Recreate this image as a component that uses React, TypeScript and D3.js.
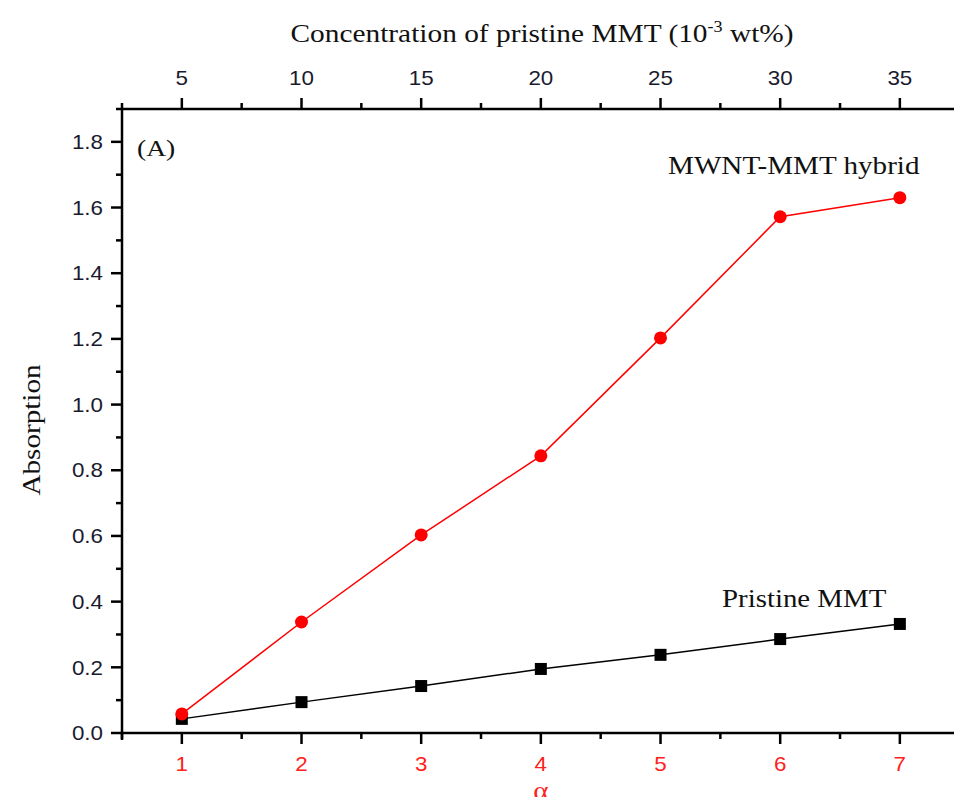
import React, { useEffect, useRef } from "react";
import * as d3 from "d3";

// alpha values (bottom axis)
const alphaValues = [1, 2, 3, 4, 5, 6, 7];
// absorption readings
const hybridValues = [0.058, 0.338, 0.603, 0.844, 1.203, 1.572, 1.63];
const pristineValues = [0.043, 0.094, 0.143, 0.195, 0.238, 0.286, 0.332];
const yTicks = [0, 0.2, 0.4, 0.6, 0.8, 1.0, 1.2, 1.4, 1.6, 1.8];
const topTicks = [5, 10, 15, 20, 25, 30, 35];

const App = () => {
  const svgRef = useRef<SVGSVGElement>(null);

  useEffect(() => {
    const width = 954;
    const height = 797;
    const margin = { top: 109, left: 122, bottom: 733 };

    const svg = d3.select(svgRef.current);
    svg.selectAll("*").remove();
    svg.attr("width", width).attr("height", height);

    const x = d3.scaleLinear().domain([0.5, 7.5]).range([margin.left, margin.left + 7 * 119.67]);
    const xTop = d3.scaleLinear().domain([2.5, 37.5]).range(x.range());
    const y = d3.scaleLinear().domain([0, 1.9]).range([margin.bottom, margin.top]);

    const sans = "'Liberation Sans', Arial, sans-serif";
    const serif = "'Liberation Serif', 'Times New Roman', serif";

    // the original's fonts are drawn a bit wider than normal, so stretch them horizontally
    const label = (parent: any, px: number, py: number, opts: any) => {
      const g = parent
        .append("g")
        .attr("transform", `translate(${px},${py}) scale(${opts.sx || 1.12},1)${opts.rotate ? "" : ""}`);
      return g
        .append("text")
        .attr("text-anchor", opts.anchor || "middle")
        .attr("dy", opts.dy || null)
        .style("font-family", opts.family)
        .style("font-size", `${opts.size}px`)
        .style("fill", opts.fill || "#111");
    };

    // bottom axis
    const bottom = svg.append("g").attr("transform", `translate(0,${margin.bottom})`);
    bottom
      .append("line")
      .attr("x1", x(0.5))
      .attr("x2", width + 20)
      .attr("stroke", "#000")
      .attr("stroke-width", 2.5);
    d3.range(0.5, 7.6, 0.5).forEach((v) => {
      const major = Number.isInteger(v);
      bottom
        .append("line")
        .attr("x1", x(v))
        .attr("x2", x(v))
        .attr("y1", 0)
        .attr("y2", major ? 11 : 6)
        .attr("stroke", "#000")
        .attr("stroke-width", 2.5);
    });
    alphaValues.forEach((d) => {
      label(bottom, x(d), 38, { family: sans, size: 20, fill: "#ff2020" }).text(d);
    });
    label(bottom, x(4), 66, { family: serif, size: 26, fill: "#ff2020" }).text("α");

    // top axis
    const top = svg.append("g").attr("transform", `translate(0,${margin.top})`);
    top
      .append("line")
      .attr("x1", x(0.5))
      .attr("x2", width + 20)
      .attr("stroke", "#000")
      .attr("stroke-width", 2.5);
    d3.range(2.5, 37.6, 2.5).forEach((v) => {
      const major = v % 5 === 0;
      top
        .append("line")
        .attr("x1", xTop(v))
        .attr("x2", xTop(v))
        .attr("y1", 0)
        .attr("y2", major ? -11 : -6)
        .attr("stroke", "#000")
        .attr("stroke-width", 2.5);
    });
    topTicks.forEach((d) => {
      label(top, xTop(d), -24, { family: sans, size: 20, fill: "#1a1a2e" }).text(d);
    });
    const title = label(top, 542, -67, { family: serif, size: 26, sx: 1.13 });
    title.append("tspan").text("Concentration of pristine MMT (10");
    title.append("tspan").attr("dy", -10).style("font-size", "16px").text("-3");
    title.append("tspan").attr("dy", 10).text(" wt%)");

    // left axis
    const left = svg.append("g").attr("transform", `translate(${margin.left},0)`);
    left
      .append("line")
      .attr("y1", y(1.9))
      .attr("y2", y(0) + 7)
      .attr("stroke", "#000")
      .attr("stroke-width", 2.5);
    d3.range(0, 1.91, 0.1).forEach((v) => {
      const major = Math.round(v * 10) % 2 === 0;
      left
        .append("line")
        .attr("x1", 0)
        .attr("x2", major ? -11 : -6)
        .attr("y1", y(v))
        .attr("y2", y(v))
        .attr("stroke", "#000")
        .attr("stroke-width", 2.5);
    });
    yTicks.forEach((d) => {
      label(left, -19, y(d), { family: sans, size: 20, fill: "#1a1a2e", anchor: "end", dy: "0.36em" }).text(
        d.toFixed(1)
      );
    });
    svg
      .append("g")
      .attr("transform", `translate(40,${430}) rotate(-90) scale(1.12,1)`)
      .append("text")
      .attr("text-anchor", "middle")
      .style("font-family", serif)
      .style("font-size", "26px")
      .style("fill", "#111")
      .text("Absorption");

    // series
    const line = d3
      .line<number>()
      .x((d, i) => x(alphaValues[i]))
      .y((d) => y(d));

    svg
      .append("path")
      .datum(pristineValues)
      .attr("d", line)
      .attr("fill", "none")
      .attr("stroke", "#000")
      .attr("stroke-width", 1.5);
    svg
      .selectAll("rect.pt")
      .data(pristineValues)
      .enter()
      .append("rect")
      .attr("x", (d, i) => x(alphaValues[i]) - 6)
      .attr("y", (d) => y(d) - 6)
      .attr("width", 12)
      .attr("height", 12)
      .attr("fill", "#000");

    svg
      .append("path")
      .datum(hybridValues)
      .attr("d", line)
      .attr("fill", "none")
      .attr("stroke", "#ff0000")
      .attr("stroke-width", 1.5);
    svg
      .selectAll("circle.pt")
      .data(hybridValues)
      .enter()
      .append("circle")
      .attr("cx", (d, i) => x(alphaValues[i]))
      .attr("cy", (d) => y(d))
      .attr("r", 6.5)
      .attr("fill", "#ff0000");

    // annotations
    label(svg, 137, 156, { family: serif, size: 24, anchor: "start", sx: 1.15 }).text("(A)");
    label(svg, 668, 174, { family: serif, size: 26, anchor: "start", sx: 1.12 }).text("MWNT-MMT hybrid");
    label(svg, 722, 607, { family: serif, size: 26, anchor: "start", sx: 1.11 }).text("Pristine MMT");
  }, []);

  return (
    <svg
      ref={svgRef}
      style={{ position: "absolute", left: 0, top: 0, display: "block", background: "#fff" }}
    />
  );
};

export default App;
